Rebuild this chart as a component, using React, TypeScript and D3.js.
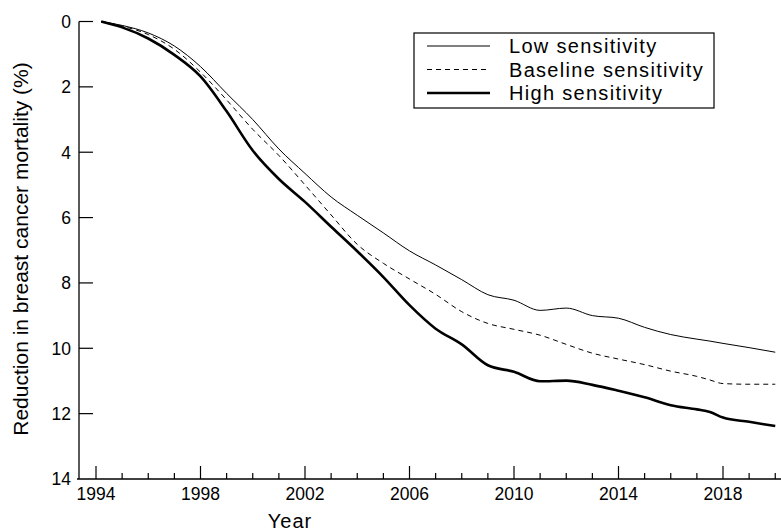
import React from "react";
import * as d3 from "d3";

const years = [1994.2, 1995, 1996, 1997, 1998, 1999, 2000, 2001, 2002, 2003, 2004, 2005, 2006, 2007, 2008, 2009, 2010, 2011, 2012, 2013, 2014, 2015, 2016, 2017, 2017.5, 2018, 2019, 2020];
const lowSensitivity = [0, 0.12, 0.35, 0.75, 1.38, 2.2, 3.0, 3.9, 4.65, 5.37, 5.93, 6.47, 7.02, 7.45, 7.9, 8.36, 8.53, 8.84, 8.77, 9.0, 9.08, 9.36, 9.58, 9.72, 9.78, 9.85, 9.98, 10.12];
const baselineSensitivity = [0, 0.14, 0.4, 0.85, 1.55, 2.4, 3.3, 4.1, 5.0, 5.92, 6.82, 7.4, 7.88, 8.35, 8.88, 9.24, 9.42, 9.6, 9.88, 10.15, 10.33, 10.5, 10.7, 10.86, 10.97, 11.08, 11.1, 11.1];
const highSensitivity = [0, 0.18, 0.52, 1.02, 1.68, 2.75, 3.95, 4.82, 5.52, 6.28, 7.03, 7.82, 8.68, 9.4, 9.88, 10.52, 10.72, 11.01, 10.99, 11.12, 11.3, 11.5, 11.74, 11.87, 11.95, 12.12, 12.25, 12.38];
const seriesLabels = ["Low sensitivity", "Baseline sensitivity", "High sensitivity"];
const xTickLabels = [1994, 1998, 2002, 2006, 2010, 2014, 2018];
const yTickLabels = [0, 2, 4, 6, 8, 10, 12, 14];

const W = 781;
const H = 532;
const FONT = "'Liberation Sans', Arial, Helvetica, sans-serif";

export default function App() {
  const x = d3.scaleLinear().domain([1994, 2018]).range([96, 723]);
  const y = d3.scaleLinear().domain([0, 14]).range([21.5, 479]);
  const styles = [
    { w: 1, dash: "none" },
    { w: 1, dash: "5,4" },
    { w: 2.6, dash: "none" },
  ];
  const seriesVals = [lowSensitivity, baselineSensitivity, highSensitivity];
  const line = (vals: number[]) =>
    d3
      .line<number>()
      .x((_, i) => x(years[i]))
      .y((v) => y(v))
      .curve(d3.curveMonotoneX)(vals) || "";
  const minorYears = d3.range(1994, 2021);
  return (
    <svg
      width={W}
      height={H}
      style={{ position: "fixed", left: 0, top: 0, background: "#fff" }}
      fontFamily={FONT}
    >
      <rect x={0} y={0} width={W} height={H} fill="#fff" />
      {/* axes */}
      <line x1={79} x2={79} y1={y(0)} y2={y(14)} stroke="#000" strokeWidth={1.3} />
      <line x1={77} x2={781} y1={y(14)} y2={y(14)} stroke="#000" strokeWidth={1.3} />
      {yTickLabels.map((t) => (
        <g key={t}>
          {t < 14 && <line x1={79} x2={93} y1={y(t)} y2={y(t)} stroke="#000" strokeWidth={1.2} />}
          <text x={71} y={y(t)} dy="0.36em" textAnchor="end" fontSize={17.5}>
            {t}
          </text>
        </g>
      ))}
      {minorYears.map((yr) => {
        const major = (yr - 1994) % 4 === 0;
        return (
          <line
            key={yr}
            x1={x(yr)}
            x2={x(yr)}
            y1={y(14)}
            y2={y(14) - (major ? 13 : 6)}
            stroke="#000"
            strokeWidth={1.2}
          />
        );
      })}
      {xTickLabels.map((t) => (
        <text key={t} x={x(t)} y={500} textAnchor="middle" fontSize={17.5}>
          {t}
        </text>
      ))}
      <text x={290} y={528} textAnchor="middle" fontSize={20} letterSpacing={1}>
        Year
      </text>
      <text
        transform={`translate(28,249) rotate(-90)`}
        textAnchor="middle"
        fontSize={21}
      >
        Reduction in breast cancer mortality (%)
      </text>
      {/* series */}
      {seriesVals.map((vals, i) => (
        <path
          key={i}
          d={line(vals)}
          fill="none"
          stroke="#000"
          strokeWidth={styles[i].w}
          strokeDasharray={styles[i].dash}
        />
      ))}
      {/* legend */}
      <rect x={414} y={33} width={300} height={75} fill="#fff" stroke="#000" strokeWidth={1.2} />
      {seriesLabels.map((lab, i) => {
        const ry = 46 + i * 23.5;
        return (
          <g key={lab}>
            <line
              x1={427}
              x2={490}
              y1={ry}
              y2={ry}
              stroke="#000"
              strokeWidth={styles[i].w}
              strokeDasharray={styles[i].dash}
            />
            <text x={509} y={ry} dy="0.36em" fontSize={20} letterSpacing={1.3}>
              {lab}
            </text>
          </g>
        );
      })}
    </svg>
  );
}
